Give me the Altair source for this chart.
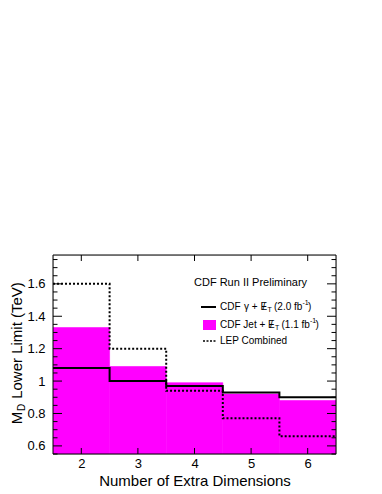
import altair as alt
import numpy as np
import pandas as pd

# ---- data ----
n_dims = [2, 3, 4, 5, 6]
bin_lo = [1.5, 2.5, 3.5, 4.5, 5.5]
bin_hi = [2.5, 3.5, 4.5, 5.5, 6.5]
jet_limit = [1.33, 1.09, 0.99, 0.92, 0.88]       # CDF Jet + MET (magenta fill)
photon_limit = [1.08, 1.00, 0.97, 0.93, 0.90]    # CDF gamma + MET (solid)
lep_limit = [1.60, 1.20, 0.94, 0.77, 0.66]       # LEP combined (dashed)
y_major = [0.6, 0.8, 1.0, 1.2, 1.4, 1.6]
x_major = [2, 3, 4, 5, 6]

W, H = 283, 199
YMIN, YMAX = 0.55, 1.778
FONT = "Liberation Sans"
MAG = "#ff00ff"

xs = alt.Scale(domain=[1.5, 6.5], nice=False, zero=False)
ys = alt.Scale(domain=[YMIN, YMAX], nice=False, zero=False)

bars = pd.DataFrame({"lo": bin_lo, "hi": bin_hi, "jet": jet_limit})
edges = bin_lo + [bin_hi[-1]]
step_ph = pd.DataFrame({"x": edges, "y": photon_limit + [photon_limit[-1]]})
step_lep = pd.DataFrame({"x": edges, "y": lep_limit + [lep_limit[-1]]})

y_minor = [round(v, 3) for v in np.arange(0.55, 1.776, 0.05) if all(abs(v - m) > 1e-6 for m in y_major)]
ymaj_df = pd.DataFrame({"v": y_major})
ymin_df = pd.DataFrame({"v": y_minor})
xmaj_df = pd.DataFrame({"v": x_major})
one = pd.DataFrame({"a": [0]})

x_axis = alt.Axis(values=x_major, format="d", ticks=False, domain=False, grid=False,
                  labelOverlap=False,
                  labelFont=FONT, labelFontSize=13, labelColor="black", labelPadding=3,
                  title="Number of Extra Dimensions", titleFont=FONT, titleFontSize=15,
                  titleFontWeight="normal", titleColor="black", titlePadding=3)
y_axis = alt.Axis(values=y_major, format="~g", ticks=False, domain=False, grid=False,
                  labelOverlap=False, labelBound=False,
                  labelFont=FONT, labelFontSize=13, labelColor="black", labelPadding=8,
                  title="")

def X(f):
    return alt.X(f, scale=xs, axis=x_axis)

def Y(f):
    return alt.Y(f, scale=ys, axis=y_axis)

fill = alt.Chart(bars).mark_rect(color=MAG, stroke=MAG, strokeWidth=0.6, clip=True).encode(
    x=X("lo:Q"), x2="hi:Q", y=Y("jet:Q"), y2=alt.datum(YMIN))

lep = alt.Chart(step_lep).mark_line(interpolate="step-after", color="black",
                                    strokeWidth=2, strokeDash=[2, 2], clip=True).encode(
    x=X("x:Q"), y=Y("y:Q"))
ph = alt.Chart(step_ph).mark_line(interpolate="step-after", color="black",
                                  strokeWidth=2, clip=True).encode(
    x=X("x:Q"), y=Y("y:Q"))

def yticks(df, length):
    left = alt.Chart(df).mark_rule(color="black", strokeWidth=1).encode(
        y=Y("v:Q"), x=alt.value(0), x2=alt.value(length))
    right = alt.Chart(df).mark_rule(color="black", strokeWidth=1).encode(
        y=Y("v:Q"), x=alt.value(W - length), x2=alt.value(W))
    return [left, right]

xt_bot = alt.Chart(xmaj_df).mark_rule(color="black").encode(
    x=X("v:Q"), y=alt.value(H), y2=alt.value(H - 6))
xt_top = alt.Chart(xmaj_df).mark_rule(color="black").encode(
    x=X("v:Q"), y=alt.value(0), y2=alt.value(6))

frame = alt.Chart(one).mark_rect(fillOpacity=0, stroke="black", strokeWidth=1).encode(
    x=alt.value(0), x2=alt.value(W), y=alt.value(0), y2=alt.value(H))

def txt(s, x, y, size=10, angle=0, align="left", baseline="middle"):
    return alt.Chart(one).mark_text(text=s, font=FONT, fontSize=size, color="black",
                                    align=align, baseline=baseline, angle=angle).encode(
        x=alt.value(x), y=alt.value(y))

ann = []
# y axis title with subscript
ann.append(txt("Lower Limit (TeV)", -36, 85.5, 15, 270, "center"))
ann.append(txt("M", -36, 163, 15, 270, "center"))
ann.append(txt("D", -31, 152.5, 10, 270, "center"))

# legend block
ann.append(txt("CDF Run II Preliminary", 141, 27.5, 11))
ly1, ly2, ly3 = 52, 70, 86
tx = 167
ann.append(alt.Chart(one).mark_rule(color="black", strokeWidth=2).encode(
    x=alt.value(148), x2=alt.value(163), y=alt.value(ly1)))
ann.append(alt.Chart(one).mark_rect(color=MAG).encode(
    x=alt.value(150), x2=alt.value(163), y=alt.value(ly2 - 5), y2=alt.value(ly2 + 5)))
ann.append(alt.Chart(one).mark_rule(color="black", strokeWidth=1.5, strokeDash=[2, 1.5]).encode(
    x=alt.value(150), x2=alt.value(163), y=alt.value(ly3)))
# line 1: CDF  γ + E/T  (2.0 fb^-1)
ann += [txt("CDF", tx, ly1), txt("γ + E", tx + 24, ly1),
        txt("/", tx + 43.8, ly1, 10, 0, "center"),
        txt("T", tx + 47.5, ly1 + 3, 7), txt("(2.0 fb", tx + 54, ly1),
        txt("-1", tx + 82.5, ly1 - 4, 7), txt(")", tx + 88, ly1)]
# line 2: CDF Jet + E/T (1.1 fb^-1)
ann += [txt("CDF Jet + E", tx, ly2), txt("/", tx + 51.5, ly2, 10, 0, "center"),
        txt("T", tx + 55, ly2 + 3, 7), txt("(1.1 fb", tx + 61.5, ly2),
        txt("-1", tx + 90, ly2 - 4, 7), txt(")", tx + 95.5, ly2)]
ann.append(txt("LEP Combined", tx, ly3))

layers = [fill, lep, ph] + yticks(ymaj_df, 9) + yticks(ymin_df, 4.5) + [xt_bot, xt_top, frame] + ann

chart = alt.layer(*layers).properties(
    width=W, height=H,
    autosize=alt.AutoSizeParams(type="none"),
    padding={"left": 45, "top": 247, "right": 30, "bottom": 38},
).configure_view(stroke=None).configure_axis(labelOverlap=False).configure(background="white")

chart.save("out.html", embed_options={"renderer": "svg", "actions": False})
